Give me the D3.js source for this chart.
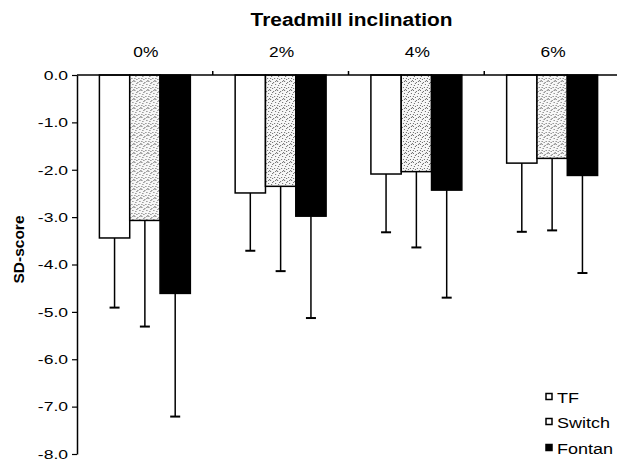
<!DOCTYPE html>
<html>
<head>
<meta charset="utf-8">
<script src="https://cdn.jsdelivr.net/npm/d3@7"></script>
<style>
  html, body { margin: 0; padding: 0; background: #fff; }
  svg { display: block; font-family: "Liberation Sans", Arial, Helvetica, sans-serif; }
</style>
</head>
<body>
<svg id="chart" width="617" height="461"></svg>
<script>
// ---- data ----
const categories = ["0%", "2%", "4%", "6%"];
const seriesNames = ["TF", "Switch", "Fontan"];
const tfMean      = [-3.44, -2.49, -2.09, -1.86];
const tfSD        = [1.47, 1.22, 1.23, 1.45];
const switchMean  = [-3.07, -2.35, -2.04, -1.76];
const switchSD    = [2.24, 1.79, 1.60, 1.52];
const fontanMean  = [-4.61, -2.98, -2.43, -2.12];
const fontanSD    = [2.60, 2.15, 2.27, 2.06];
const yTicks      = [0, -1, -2, -3, -4, -5, -6, -7, -8];
const titleText   = "Treadmill inclination";
const yLabelText  = "SD-score";

const means = [tfMean, switchMean, fontanMean];
const sds = [tfSD, switchSD, fontanSD];
const rows = categories.map((c, i) => ({
  cat: c,
  vals: seriesNames.map((s, j) => ({ series: s, mean: means[j][i], sd: sds[j][i] }))
}));

// ---- layout ----
const svg = d3.select("#chart");
const mLeft = 77, mRight = 620, mTop = 75, mBottom = 454;
const FONT = '"Liberation Sans", Arial, Helvetica, sans-serif';

const y = d3.scaleLinear().domain([-8, 0]).range([mBottom, mTop]);
const x0 = d3.scaleBand().domain(categories).range([mLeft, mRight]).paddingInner(0.33).paddingOuter(0.165);
const x1 = d3.scaleBand().domain(seriesNames).range([0, x0.bandwidth()]).padding(0);

// pattern for Switch (stipple)
const defs = svg.append("defs");
const pat = defs.append("pattern").attr("id", "stipple")
  .attr("patternUnits", "userSpaceOnUse").attr("width", 7).attr("height", 9);
pat.append("rect").attr("width", 7).attr("height", 9).attr("fill", "#f7f7f7");
const dots = [[0,0],[3,1],[5,3],[1,4],[4,6],[2,7],[6,8],[0,6],[5,0],[2,2]];
pat.selectAll("rect.d").data(dots).join("rect").attr("class", "d")
  .attr("x", d => d[0]).attr("y", d => d[1]).attr("width", 1).attr("height", 1).attr("fill", "#666");

const fills = { TF: "#ffffff", Switch: "url(#stipple)", Fontan: "#000000" };

// bars
const g = svg.append("g");
const groups = g.selectAll("g.grp").data(rows).join("g").attr("class", "grp")
  .attr("transform", d => `translate(${x0(d.cat)},0)`);

// error bars (downward only)
groups.selectAll("g.err").data(d => d.vals).join("g").attr("class", "err").each(function(d) {
  const cx = x1(d.series) + x1.bandwidth() / 2;
  const sel = d3.select(this);
  sel.append("line").attr("x1", cx).attr("x2", cx)
    .attr("y1", y(d.mean)).attr("y2", y(d.mean - d.sd))
    .attr("stroke", "#000").attr("stroke-width", 1.5);
  sel.append("line").attr("x1", cx - 5).attr("x2", cx + 5)
    .attr("y1", y(d.mean - d.sd)).attr("y2", y(d.mean - d.sd))
    .attr("stroke", "#000").attr("stroke-width", 2);
});

groups.selectAll("rect.bar").data(d => d.vals).join("rect").attr("class", "bar")
  .attr("x", d => x1(d.series))
  .attr("y", d => y(0))
  .attr("width", x1.bandwidth())
  .attr("height", d => y(d.mean) - y(0))
  .attr("fill", d => fills[d.series])
  .attr("stroke", "#000")
  .attr("stroke-width", 1.5);

// top (zero) axis line with category boundary ticks
svg.append("line").attr("x1", mLeft).attr("x2", 617).attr("y1", y(0)).attr("y2", y(0))
  .attr("stroke", "#000").attr("stroke-width", 1.5);
const boundaries = categories.slice(0, -1).map(c => x0(c) + x0.bandwidth() + x0.step() * x0.paddingInner() / 2);
svg.selectAll("line.bt").data(boundaries).join("line").attr("class", "bt")
  .attr("x1", d => d).attr("x2", d => d).attr("y1", y(0)).attr("y2", y(0) - 4)
  .attr("stroke", "#000").attr("stroke-width", 1.5);

// category labels (slightly wide lettering)
const catSX = 1.12;
svg.selectAll("text.cat").data(categories).join("text").attr("class", "cat")
  .attr("transform", d => `translate(${x0(d) + x0.bandwidth() / 2 + 1},57) scale(${catSX},1)`)
  .attr("text-anchor", "middle").attr("font-size", 15.5).attr("font-family", FONT)
  .text(d => d);

// y axis
const tickSX = 1.3;
const yAxis = d3.axisLeft(y).tickValues(yTicks).tickSize(5).tickSizeOuter(0).tickPadding(4)
  .tickFormat(d => d.toFixed(1));
const ya = svg.append("g").attr("transform", `translate(${mLeft},0)`).call(yAxis);
ya.select(".domain").attr("stroke-width", 1.5);
ya.selectAll(".tick line").attr("stroke-width", 1.2);
ya.selectAll(".tick text").attr("font-size", 13.5).attr("font-family", FONT).attr("fill", "#000")
  .attr("x", -9 / tickSX).attr("transform", `scale(${tickSX},1)`);

// title
svg.append("text").attr("transform", `translate(${(mLeft + mRight) / 2 + 3},26) scale(1.13,1)`)
  .attr("text-anchor", "middle").attr("font-size", 18.5).attr("font-weight", "bold")
  .attr("font-family", FONT).text(titleText);

// y label
svg.append("text").attr("transform", `translate(24,${(mTop + mBottom) / 2 - 15}) rotate(-90)`)
  .attr("text-anchor", "middle").attr("font-size", 15.5).attr("font-weight", "bold")
  .attr("font-family", FONT).text(yLabelText);

// legend
const leg = svg.append("g").attr("transform", "translate(546,0)");
const legY = [397, 422, 448];
const li = leg.selectAll("g.li").data(seriesNames).join("g").attr("class", "li")
  .attr("transform", (d, i) => `translate(0,${legY[i]})`);
li.append("rect").attr("x", 0).attr("y", -3.5).attr("width", 6).attr("height", 6)
  .attr("fill", d => d === "Fontan" ? "#000" : "#fff").attr("stroke", "#000").attr("stroke-width", 1.5);
li.append("text").attr("transform", "translate(11,5.5) scale(1.2,1)")
  .attr("font-size", 15).attr("font-family", FONT)
  .text(d => d);
</script>
</body>
</html>
